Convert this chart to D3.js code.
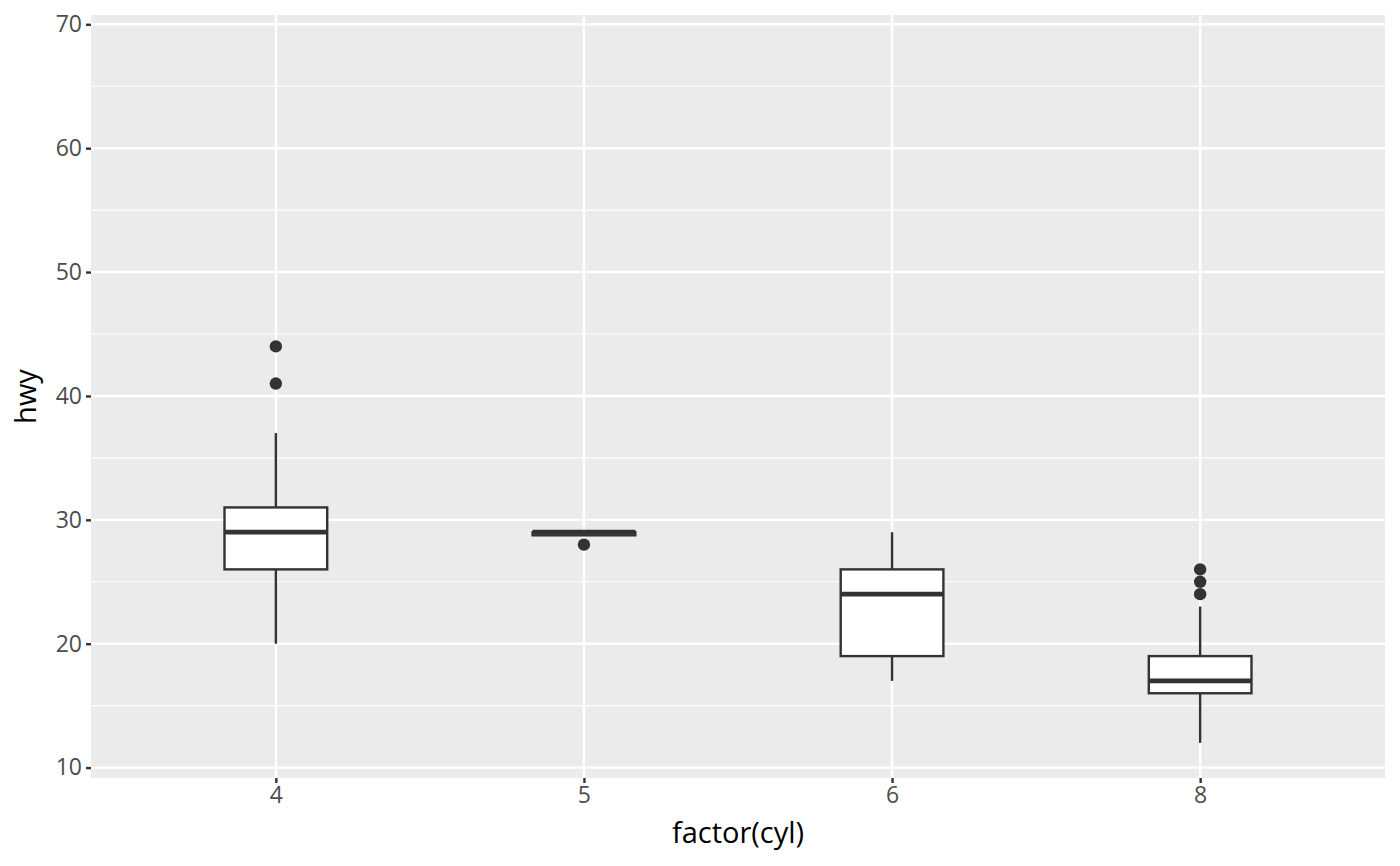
<!DOCTYPE html>
<html>
<head>
<meta charset="utf-8">
<script src="https://cdn.jsdelivr.net/npm/d3@7"></script>
<style>
  body { margin: 0; background: #fff; }
  text { font-family: "Open Sans", "Noto Sans", sans-serif; }
</style>
</head>
<body>
<script>
// hwy by factor(cyl) -- boxplot stats
var cyl      = ["4", "5", "6", "8"];
var lower    = [20, 28.75, 17, 12];
var q1       = [26, 28.75, 19, 16];
var median   = [29, 29, 24, 17];
var q3       = [31, 29, 26, 19];
var upper    = [37, 29, 29, 23];
var outliers = [[41, 44], [28], [], [24, 25, 26]];
var yTicks   = [10, 20, 30, 40, 50, 60, 70];

var W = 1400, H = 866;
var margin = {top: 15, right: 15, bottom: 88, left: 91}
, width = W - margin.left - margin.right
, height = H - margin.top - margin.bottom;

var boxes = cyl.map(function(c, i) {
  return {cyl: c, lower: lower[i], q1: q1[i], median: median[i], q3: q3[i], upper: upper[i], out: outliers[i]};
});

// discrete axis: 0.6 unit padding each side like ggplot
var x = d3.scalePoint().domain(cyl).range([0, width]).padding(0.6);
var bw = x.step() / 3;

var y = d3.scaleLinear().domain([9.16, 70.75]).range([height, 0]);

var svg = d3.select('body').append('svg')
  .attr('width', W).attr('height', H);

var main = svg.append('g')
  .attr('transform', 'translate(' + margin.left + ',' + margin.top + ')');

// panel background
main.append('rect').attr('width', width).attr('height', height).attr('fill', '#EBEBEB');

// minor grid
var minor = d3.range(15, 70, 10);
main.selectAll('.minor').data(minor).enter().append('line')
  .attr('x1', 0).attr('x2', width)
  .attr('y1', function(d) { return y(d); }).attr('y2', function(d) { return y(d); })
  .attr('stroke', '#fff').attr('stroke-width', 1.2);

// major grid
main.selectAll('.hmaj').data(yTicks).enter().append('line')
  .attr('x1', 0).attr('x2', width)
  .attr('y1', function(d) { return y(d); }).attr('y2', function(d) { return y(d); })
  .attr('stroke', '#fff').attr('stroke-width', 2.4);
main.selectAll('.vmaj').data(cyl).enter().append('line')
  .attr('y1', 0).attr('y2', height)
  .attr('x1', function(d) { return x(d); }).attr('x2', function(d) { return x(d); })
  .attr('stroke', '#fff').attr('stroke-width', 2.4);

// axes
var yAxis = d3.axisLeft(y).tickValues(yTicks).tickSize(5).tickPadding(4);
var gy = main.append('g').call(yAxis);
gy.select('.domain').remove();
gy.selectAll('line').attr('stroke', '#333').attr('stroke-width', 2.4);
gy.selectAll('text').attr('fill', '#4D4D4D').style('font-size', '23px');

var xAxis = d3.axisBottom(x).tickSize(5).tickPadding(4);
var gx = main.append('g').attr('transform', 'translate(0,' + height + ')').call(xAxis);
gx.select('.domain').remove();
gx.selectAll('line').attr('stroke', '#333').attr('stroke-width', 2.4);
gx.selectAll('text').attr('fill', '#4D4D4D').style('font-size', '23px');

// axis titles
svg.append('text')
  .attr('x', margin.left + width / 2).attr('y', 843)
  .attr('text-anchor', 'middle').style('font-size', '29px').attr('fill', '#000')
  .text('factor(cyl)');
svg.append('text')
  .attr('transform', 'translate(36,' + (margin.top + height / 2) + ') rotate(-90)')
  .attr('text-anchor', 'middle').style('font-size', '29px').attr('fill', '#000')
  .text('hwy');

// boxes
var g = main.append('g');
var bx = g.selectAll('.box').data(boxes).enter().append('g');

bx.append('line')
  .attr('x1', function(d) { return x(d.cyl); }).attr('x2', function(d) { return x(d.cyl); })
  .attr('y1', function(d) { return y(d.upper); }).attr('y2', function(d) { return y(d.q3); })
  .attr('stroke', '#333').attr('stroke-width', 2.4);
bx.append('line')
  .attr('x1', function(d) { return x(d.cyl); }).attr('x2', function(d) { return x(d.cyl); })
  .attr('y1', function(d) { return y(d.q1); }).attr('y2', function(d) { return y(d.lower); })
  .attr('stroke', '#333').attr('stroke-width', 2.4);
bx.append('rect')
  .attr('x', function(d) { return x(d.cyl) - bw / 2; })
  .attr('width', bw)
  .attr('y', function(d) { return y(d.q3); })
  .attr('height', function(d) { return y(d.q1) - y(d.q3); })
  .attr('fill', '#fff').attr('stroke', '#333').attr('stroke-width', 2.4);
bx.append('line')
  .attr('x1', function(d) { return x(d.cyl) - bw / 2; }).attr('x2', function(d) { return x(d.cyl) + bw / 2; })
  .attr('y1', function(d) { return y(d.median); }).attr('y2', function(d) { return y(d.median); })
  .attr('stroke', '#333').attr('stroke-width', 4.8);

bx.selectAll('circle').data(function(d) { return d.out.map(function(v) { return {cyl: d.cyl, v: v}; }); })
  .enter().append('circle')
  .attr('cx', function(d) { return x(d.cyl); })
  .attr('cy', function(d) { return y(d.v); })
  .attr('r', 6.2).attr('fill', '#333');
</script>
</body>
</html>
